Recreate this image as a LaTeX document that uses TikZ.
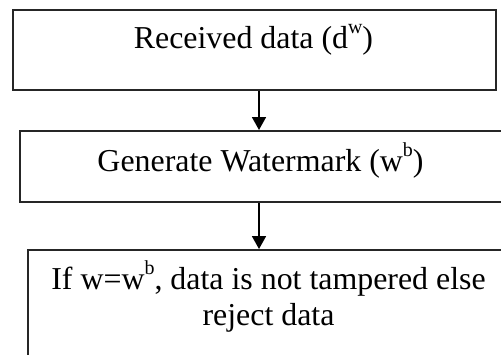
\documentclass[tikz,border=0pt]{standalone}
\usepackage{fontspec}
\setmainfont{Liberation Serif}
\usetikzlibrary{arrows.meta}
\newcommand{\supx}[1]{\raisebox{0.45em}{\fontsize{20}{20}\selectfont #1}}
\begin{document}
\begin{tikzpicture}[x=1bp,y=-1bp,
  box/.style={draw=black!85,line width=1.8bp,rectangle,inner sep=0pt,anchor=north west},
  txt/.style={inner sep=0pt,font=\fontsize{32}{35}\selectfont,align=center,anchor=base},
  arr/.style={line width=1.8bp,-{Triangle[length=13bp,width=14bp]}}]
\clip (0,0) rectangle (501,354);
\fill[white] (0,0) rectangle (501,354);
\node[box,minimum width=483bp,minimum height=80bp] (b1) at (12,9) {};
\node[box,minimum width=486bp,minimum height=71bp] (b2) at (19,130) {};
\node[box,minimum width=483bp,minimum height=130bp] (b3) at (27,249) {};
\node[txt] (t1) at (253.5,48) {Received data (d\supx{w})};
\node[txt] (t2) at (260.5,171) {Generate Watermark (w\supx{b})};
\node[txt] (t3) at (268.5,289) {If w=w\supx{b}, data is not tampered else};
\node[txt] (t4) at (268.5,325) {reject data};
\coordinate (ax) at (259,0);
\draw[arr] (b1.south -| ax) -- (b2.north -| ax);
\draw[arr] (b2.south -| ax) -- (b3.north -| ax);
\end{tikzpicture}
\end{document}
